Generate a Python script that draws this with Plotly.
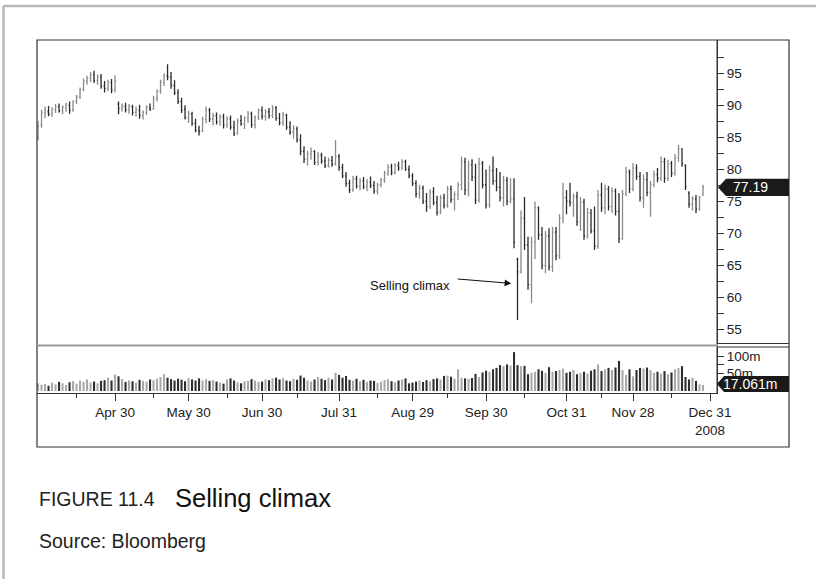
import numpy as np
import pandas as pd
import plotly.graph_objects as go

# trading calendar, Mar 31 - Dec 31 2008 (NYSE holidays removed)
holidays = ["2008-05-26", "2008-07-04", "2008-09-01", "2008-11-27", "2008-12-25"]
days = [d for d in pd.bdate_range("2008-03-31", "2008-12-31") if d.strftime("%Y-%m-%d") not in holidays]
day_index = {d.strftime("%Y-%m-%d"): i for i, d in enumerate(days)}

open_ = [85, 87, 88.8, 89, 88.6, 89.3, 89.8, 89.2, 89.6, 90,
         89.3, 90.6, 91.4, 92.5, 93.8, 94.2, 94.8, 93.9, 94.4, 93,
         92.6, 93.5, 92.4, 90.2, 89.5, 89.8, 89.3, 89.8, 88.9, 89.2,
         88.4, 88.9, 89.6, 89.5, 91.1, 92.2, 93.6, 94.6, 94.4, 93.1,
         92.0, 90.6, 89.4, 88.0, 88.6, 87.2, 86.1, 86, 87.8, 89.2,
         87.9, 88.4, 87.4, 88.2, 86.9, 87.9, 86.6, 85.7, 87.6, 87.1,
         88, 88.7, 87.0, 88.1, 89.2, 88.3, 89.0, 88.4, 89.6, 88,
         87.3, 88.5, 86.6, 85.8, 86.3, 84.6, 82.8, 81.6, 82.4, 82.8,
         81.1, 82.2, 81.3, 80.6, 81.4, 80.8, 82, 80.3, 79.0, 77.8,
         76.8, 78.5, 77.4, 78.2, 77.3, 78.0, 77.5, 76.6, 77.6, 78.4,
         79.4, 80.4, 79.5, 80.6, 80.2, 81.2, 80, 79, 77.8, 76.2,
         77.1, 75.0, 74.2, 76.5, 74.8, 73.3, 75.6, 74.4, 76.9, 75.3,
         76.1, 77.6, 81.2, 76.8, 80.7, 78.8, 75.2, 80.9, 77.6, 74.5,
         79.8, 78.2, 77.2, 75.6, 78.3, 75.0, 75.4, 66.0, 64.0, 72.4,
         68.2, 62.0, 68.7, 74.0, 69.8, 65.0, 69.6, 64.8, 70.2, 66.5,
         72.4, 75.6, 75.0, 74.8, 75.8, 71.8, 74.9, 69.6, 73.2, 70.4,
         68.0, 76.0, 74.0, 76.9, 74.2, 76.6, 73.4, 69.2, 76.2, 79.6,
         77.0, 80.2, 78.9, 75.6, 78.4, 76.4, 77.6, 79.2, 78.6, 81.2,
         78.6, 80.9, 79.4, 81.8, 83.2, 80.6, 76.3, 74.6, 75.4, 73.8,
         76.0]
high = [87.5, 89.3, 89.8, 89.9, 89.7, 90.2, 90.3, 90.0, 90.4, 90.6,
        90.8, 91.6, 92.8, 94.2, 94.6, 95.2, 95.4, 94.8, 94.9, 93.8,
        94.0, 94.1, 94.7, 90.6, 90.3, 90.4, 90.2, 90.1, 89.8, 90.1,
        89.2, 90.0, 90.3, 91.5, 92.5, 94.0, 95.0, 96.4, 95.2, 93.9,
        92.5, 91.2, 90.0, 89.2, 89.0, 87.9, 86.8, 88.2, 89.8, 89.6,
        88.8, 88.9, 88.6, 88.7, 88.3, 88.4, 87.6, 88.0, 88.5, 88.3,
        89.1, 89.0, 88.4, 89.5, 89.8, 89.4, 89.6, 90.0, 89.9, 88.8,
        89.0, 88.7, 87.5, 86.9, 86.7, 85.5, 83.6, 82.9, 83.4, 83.0,
        82.7, 82.6, 82.0, 81.8, 82.1, 84.6, 82.4, 80.9, 79.6, 78.4,
        79.0, 79.0, 78.6, 78.8, 78.5, 78.9, 78.2, 77.9, 78.7, 79.8,
        80.8, 80.9, 81.0, 81.2, 81.6, 81.5, 80.6, 79.4, 78.3, 77.6,
        77.5, 76.3, 76.9, 77.2, 75.9, 76.0, 76.2, 77.4, 77.5, 76.6,
        78.0, 82.0, 81.8, 81.4, 81.6, 80.9, 81.8, 81.3, 80.0, 80.6,
        82.0, 80.2, 79.6, 79.0, 78.8, 78.6, 78.6, 66.2, 73.6, 75.7,
        69.5, 69.5, 75.0, 74.2, 71.0, 70.4, 70.8, 71.0, 71.0, 73.0,
        77.9, 76.8, 77.9, 76.2, 76.5, 75.7, 75.4, 74.0, 73.8, 74.2,
        76.8, 77.9, 77.6, 77.4, 77.2, 77.0, 76.3, 76.8, 80.4, 80.0,
        81.0, 80.8, 79.6, 79.2, 79.6, 78.2, 79.8, 80.2, 82.0, 81.8,
        81.5, 81.3, 82.4, 83.8, 83.3, 80.8, 76.6, 75.8, 76.0, 75.9,
        77.6]
low = [84.5, 86.5, 88, 88.3, 88.2, 88.8, 88.9, 88.6, 89, 88.7,
       89, 90.2, 91, 92.2, 93.2, 93.6, 93.5, 93.2, 92.6, 92,
       92.2, 91.9, 92.0, 88.6, 89, 88.9, 88.7, 88.4, 88.2, 87.9,
       87.8, 88.5, 89.1, 89.3, 90.6, 91.8, 93.0, 93.9, 92.6, 91.6,
       90.2, 88.8, 87.8, 87.3, 86.8, 85.8, 85.3, 85.8, 87.2, 87.4,
       86.9, 87.0, 86.8, 86.4, 86.5, 86.2, 85.2, 85.4, 86.8, 86.3,
       87.3, 86.5, 86.4, 87.7, 87.8, 87.6, 87.9, 88.0, 87.6, 86.9,
       86.8, 86.2, 85.4, 84.8, 84.2, 82.2, 81.0, 80.6, 81.5, 80.7,
       80.6, 80.9, 80.2, 80.3, 80.4, 80.6, 79.8, 78.6, 77.3, 76.3,
       76.5, 77.0, 76.7, 76.9, 76.6, 77.1, 76.2, 76.1, 77.2, 77.9,
       79.0, 79.1, 79.2, 79.8, 79.9, 79.8, 78.6, 77.4, 75.6, 75.4,
       74.6, 73.4, 73.8, 74.4, 72.8, 73.0, 73.9, 74.0, 74.8, 73.6,
       75.2, 76.8, 76.0, 75.8, 78.2, 74.6, 74.8, 77.0, 73.9, 74.0,
       77.6, 76.6, 75.0, 74.2, 74.4, 74.7, 67.7, 56.5, 63.8, 67.4,
       61.2, 59.1, 66.0, 69.0, 64.4, 63.8, 64.2, 64.0, 65.8, 66.0,
       71.6, 73.0, 74.2, 72.6, 71.2, 70.4, 69.0, 69.2, 70.0, 67.4,
       67.6, 73.4, 73.0, 73.6, 73.2, 72.8, 68.5, 69.0, 75.8, 76.3,
       76.6, 78.4, 75.0, 74.0, 75.8, 72.6, 77.2, 78.0, 78.2, 77.9,
       78.2, 78.8, 79.0, 81.2, 80.4, 76.8, 74.0, 73.6, 73.2, 73.6,
       75.9]
close = [86.8, 88.8, 89.2, 88.6, 89.4, 89.8, 89.1, 89.7, 90.1, 89.2,
         90.6, 91.3, 92.5, 93.8, 94.3, 94.8, 93.9, 94.5, 93.0, 92.6,
         93.6, 92.4, 93.8, 89.5, 89.9, 89.3, 89.8, 88.9, 89.3, 88.4,
         88.9, 89.7, 89.4, 91.1, 92.2, 93.6, 94.6, 94.4, 93.1, 92.0,
         90.6, 89.2, 88.1, 88.7, 87.2, 86.1, 85.9, 87.8, 89.3, 87.9,
         88.4, 87.4, 88.2, 86.9, 87.9, 86.6, 85.6, 87.6, 87.1, 88.0,
         88.7, 87.0, 88.1, 89.2, 88.3, 89.0, 88.4, 89.6, 88.0, 87.3,
         88.5, 86.6, 85.8, 86.3, 84.6, 82.8, 81.6, 82.4, 82.8, 81.1,
         82.2, 81.3, 80.6, 81.4, 80.8, 82.0, 80.3, 79.0, 77.8, 76.8,
         78.5, 77.4, 78.2, 77.3, 78.0, 77.5, 76.6, 77.6, 78.4, 79.4,
         80.4, 79.5, 80.6, 80.2, 81.2, 80.0, 79.0, 77.8, 76.2, 77.1,
         75.0, 74.2, 76.5, 74.8, 73.3, 75.6, 74.4, 76.9, 75.3, 76.1,
         77.6, 81.2, 76.8, 80.7, 78.8, 75.2, 80.9, 77.6, 74.5, 79.8,
         78.2, 77.2, 75.6, 78.3, 75.0, 75.4, 68.6, 64.0, 72.4, 68.2,
         62.0, 68.7, 74.0, 69.8, 65.0, 69.6, 64.8, 70.2, 66.5, 72.4,
         75.6, 75.0, 74.8, 75.8, 71.8, 74.9, 69.6, 73.2, 70.4, 68.0,
         76.0, 74.0, 76.9, 74.2, 76.6, 73.4, 69.2, 76.2, 79.6, 77.0,
         80.2, 78.9, 75.6, 78.4, 76.4, 77.6, 79.2, 78.6, 81.2, 78.6,
         80.9, 79.4, 81.8, 83.2, 80.9, 77.3, 74.6, 75.4, 73.8, 75.6,
         77.19]
volume = [22, 18, 20, 15, 24, 19, 26, 22, 17, 25,
          28, 21, 30, 26, 33, 24, 27, 22, 29, 31,
          38, 30, 47, 42, 34, 26, 30, 28, 24, 32,
          29, 27, 33, 31, 35, 40, 48, 38, 34, 30,
          35, 32, 28, 37, 33, 30, 36, 30, 34, 29,
          31, 27, 24, 21, 33, 36, 30, 25, 22, 28,
          29, 34, 30, 26, 27, 33, 31, 36, 38, 33,
          37, 30, 28, 35, 32, 44, 38, 30, 27, 33,
          40, 35, 31, 38, 33, 52, 46, 38, 43, 32,
          30, 35, 28, 32, 26, 30, 29, 23, 27, 31,
          34, 28, 25, 30, 33, 36, 22, 24, 27, 30,
          26, 31, 28, 34, 36, 33, 43, 44, 41, 35,
          62, 38, 36, 35, 37, 49, 40, 53, 58, 55,
          62, 66, 74, 71, 76, 73, 111, 74, 71, 72,
          48, 52, 55, 62, 58, 52, 68, 55, 57, 60,
          64, 52, 55, 60, 48, 51, 55, 50, 58, 62,
          76, 57, 62, 66, 60, 67, 86, 60, 46, 62,
          42, 60, 66, 64, 67, 60, 52, 55, 50, 57,
          48, 53, 62, 66, 71, 40, 33, 38, 29, 19,
          17.061]

tick_dates = ["2008-04-30", "2008-05-30", "2008-06-30", "2008-07-31", "2008-08-29",
              "2008-09-30", "2008-10-31", "2008-11-28", "2008-12-31"]
tick_labels = ["Apr 30", "May 30", "Jun 30", "Jul 31", "Aug 29", "Sep 30", "Oct 31", "Nov 28", "Dec 31<br>2008"]
minor_dates = ["2008-04-15", "2008-05-15", "2008-06-16", "2008-07-15", "2008-08-15",
               "2008-09-15", "2008-10-15", "2008-11-14", "2008-12-15"]
price_ticks = [55, 60, 65, 70, 75, 80, 85, 90, 95]
price_minor = [57.5, 62.5, 67.5, 72.5, 77.5, 82.5, 87.5, 92.5, 97.5]
vol_ticks = [50, 100]
vol_labels = ["50m", "100m"]

x = np.arange(len(close))
FONT = "Liberation Sans Narrow, Arial Narrow, Liberation Sans, Arial, sans-serif"
W, H = 816, 579
px = lambda v: v / W
py = lambda v: (H - v) / H

vol_colors = ["#a9a9a9" if c >= o else "#2e2e2e" for o, c in zip(open_, close)]

fig = go.Figure()
fig.add_trace(go.Ohlc(x=x, open=open_, high=high, low=low, close=close,
                      increasing=dict(line=dict(color="#8a8a8a", width=1.3)),
                      decreasing=dict(line=dict(color="#2a2a2a", width=1.3)),
                      tickwidth=0.3, xaxis="x", yaxis="y", hoverinfo="skip"))
fig.add_trace(go.Bar(x=x, y=volume, marker=dict(color=vol_colors, line=dict(width=0)),
                     width=0.6, xaxis="x2", yaxis="y2", hoverinfo="skip"))

tickfont = dict(family=FONT, size=13.5, color="#222")
xr = [-0.3, 194.0]
fig.update_layout(
    width=W, height=H, margin=dict(l=0, r=0, t=0, b=0, pad=0, autoexpand=False), autosize=False,
    paper_bgcolor="white", plot_bgcolor="white", showlegend=False,
    font=dict(family=FONT, size=14, color="#222"),
    xaxis=dict(domain=[px(37), px(717)], range=xr, anchor="y", showticklabels=False, automargin=False,
               showgrid=False, zeroline=False, ticks="", rangeslider=dict(visible=False)),
    yaxis=dict(domain=[py(343), py(40)], range=[52.9, 100.2], side="right", anchor="x", automargin=False,
               tickvals=price_ticks, ticks="outside", ticklen=6, tickcolor="#333",
               minor=dict(tickvals=price_minor, ticks="outside", ticklen=6, tickcolor="#333"),
               showgrid=False, zeroline=False, showline=True, linecolor="#333",
               tickfont=tickfont),
    xaxis2=dict(domain=[px(37), px(717)], range=xr, anchor="y2", automargin=False,
                tickvals=[day_index[d] for d in tick_dates], ticktext=tick_labels,
                ticks="outside", ticklen=7, tickcolor="#333",
                minor=dict(tickvals=[day_index[d] for d in minor_dates], ticks="outside",
                           ticklen=4, tickcolor="#333"),
                showgrid=False, zeroline=False, showline=True, linecolor="#333",
                tickfont=tickfont),
    yaxis2=dict(domain=[py(393), py(347)], range=[-5.7, 125.7], side="right", anchor="x2", automargin=False,
                tickvals=vol_ticks, ticktext=vol_labels, ticks="outside", ticklen=6, tickcolor="#333",
                minor=dict(tickvals=[25, 75], ticks="outside", ticklen=6, tickcolor="#333"),
                showgrid=False, zeroline=False, showline=True, linecolor="#333",
                tickfont=tickfont),
    bargap=0.4,
)

shapes = [
    # outer page border
    dict(type="line", xref="paper", yref="paper", x0=px(3.5), x1=1, y0=py(6), y1=py(6),
         line=dict(color="#b8b8b8", width=2.5)),
    dict(type="line", xref="paper", yref="paper", x0=px(3.5), x1=px(3.5), y0=0, y1=py(6),
         line=dict(color="#b8b8b8", width=2.5)),
    # chart frame
    dict(type="rect", xref="paper", yref="paper", x0=px(37), x1=px(789), y0=py(447), y1=py(40),
         line=dict(color="#333", width=1.2)),
    dict(type="line", xref="paper", yref="paper", x0=px(717), x1=px(717), y0=py(393), y1=py(40),
         line=dict(color="#333", width=1)),
    dict(type="line", xref="paper", yref="paper", x0=px(37), x1=px(717), y0=py(345.5), y1=py(345.5),
         line=dict(color="#9a9a9a", width=2)),
    dict(type="line", xref="paper", yref="paper", x0=px(717), x1=px(789), y0=py(343.5), y1=py(343.5),
         line=dict(color="#333", width=1)),
    dict(type="line", xref="paper", yref="paper", x0=px(717), x1=px(789), y0=py(347), y1=py(347),
         line=dict(color="#333", width=1)),
    # last price tag
    dict(type="path", xref="paper", yref="y", layer="above",
         path=f"M {px(718)},{close[-1]} L {px(726)},{close[-1] + 1.35} L {px(789)},{close[-1] + 1.35} "
              f"L {px(789)},{close[-1] - 1.35} L {px(726)},{close[-1] - 1.35} Z",
         fillcolor="#1a1a1a", line=dict(width=0)),
    # last volume tag
    dict(type="path", xref="paper", yref="paper", layer="above",
         path=f"M {px(717)},{py(384)} L {px(724)},{py(376)} L {px(789)},{py(376)} "
              f"L {px(789)},{py(392)} L {px(724)},{py(392)} Z",
         fillcolor="#1a1a1a", line=dict(width=0)),
]
fig.update_layout(shapes=shapes)

annotations = [
    dict(xref="paper", yref="y", x=px(731), y=close[-1], text=f"{close[-1]:.2f}", showarrow=False,
         xanchor="left", yanchor="middle", font=dict(family=FONT, size=14, color="white")),
    dict(xref="paper", yref="paper", x=px(721), y=py(384), text=f"{volume[-1]:.3f}m", showarrow=False,
         xanchor="left", yanchor="middle", font=dict(family=FONT, size=14, color="white")),
    dict(xref="x", yref="y", x=106.3, y=61.9, text="Selling climax", showarrow=False,
         xanchor="center", yanchor="middle", font=dict(family=FONT, size=13, color="#111")),
    dict(xref="x", yref="y", axref="x", ayref="y", x=135.2, y=62.2, ax=119.5, ay=62.9, text="",
         showarrow=True, arrowhead=2, arrowsize=1.2, arrowwidth=1.1, arrowcolor="#111"),
    dict(xref="paper", yref="paper", x=px(37), y=py(499), text="FIGURE 11.4", showarrow=False,
         xanchor="left", yanchor="middle", font=dict(family=FONT, size=19.5, color="#222")),
    dict(xref="paper", yref="paper", x=px(173), y=py(498), text="Selling climax", showarrow=False,
         xanchor="left", yanchor="middle", font=dict(family=FONT, size=25.5, color="#111")),
    dict(xref="paper", yref="paper", x=px(37), y=py(541), text="Source: Bloomberg", showarrow=False,
         xanchor="left", yanchor="middle", font=dict(family=FONT, size=19.5, color="#222")),
]
fig.update_layout(annotations=annotations)

fig.write_html("out.html", config={"responsive": False, "displayModeBar": False},
               post_script="document.body.style.margin='0px';")
